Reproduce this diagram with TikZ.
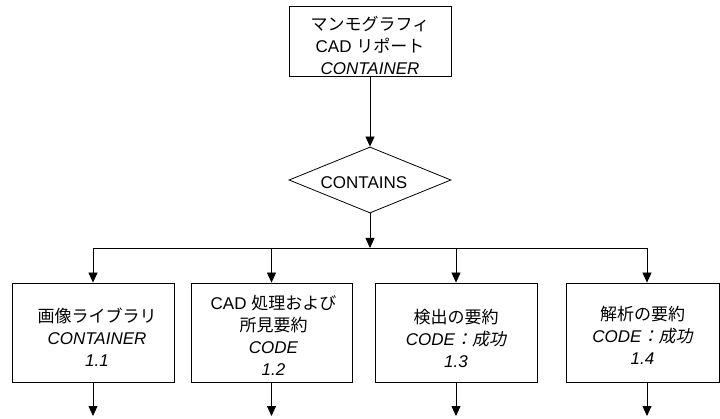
\documentclass[tikz,border=0pt]{standalone}
\usepackage{fontspec}
\setmainfont{Liberation Sans}
\newfontfamily\jp{Noto Sans CJK JP}
\newfontfamily\jpit{Noto Sans CJK JP}[FakeSlant=0.2]
\usetikzlibrary{shapes.geometric,arrows.meta}

\tikzset{
  txt/.style={font=\fontsize{17}{22}\selectfont, align=center, inner sep=0pt},
  flowbox/.style={draw, line width=0.8pt, minimum width=162pt, minimum height=99pt, inner sep=0pt},
  flowline/.style={line width=0.8pt},
  flowarrow/.style={flowline, -{Triangle[length=10pt,width=9pt]}}
}

\begin{document}
\begin{tikzpicture}[x=1pt,y=-1pt]
\useasboundingbox (0,0) rectangle (720,419);

% top container
\node[flowbox, minimum width=162pt, minimum height=70pt] (report) at (370,41) {};
\node[txt] (reporttext) at ([yshift=-4pt]report.center)
  {{\jp マンモグラフィ}\\CAD {\jp リポート}\\\textit{CONTAINER}};

\node[draw, line width=0.8pt, shape=diamond, inner sep=0pt, minimum width=162pt, minimum height=66pt] (contains) at (370,180) {};
\node[txt] (containstext) at ([xshift=-6pt,yshift=-3pt]contains.center) {CONTAINS};

\coordinate (hub) at (370,248);

% children
\node[flowbox] (lib) at (93,332.5) {};
\node[flowbox, minimum width=161pt] (cad) at (271.5,332.5) {};
\node[flowbox] (det) at (456,332.5) {};
\node[flowbox, minimum width=153pt] (ana) at (642.5,332.5) {};

\node[txt] (libtext) at ([xshift=4pt,yshift=-5pt]lib.center)
  {{\jp 画像ライブラリ}\\\textit{CONTAINER}\\\textit{1.1}};
\node[txt] (cadtext) at ([xshift=2pt,yshift=-3pt]cad.center)
  {CAD {\jp 処理および}\\{\jp 所見要約}\\\textit{CODE}\\\textit{1.2}};
\node[txt] (dettext) at ([yshift=-6pt]det.center)
  {{\jp 検出の要約}\\\textit{CODE}{\jpit ：成功}\\\textit{1.3}};
\node[txt] (anatext) at ([yshift=-3pt]ana.center)
  {{\jp 解析の要約}\\\textit{CODE}{\jpit ：成功}\\\textit{1.4}};

\coordinate (out1) at (93,416);
\coordinate (out2) at (271.5,416);
\coordinate (out3) at (456,416);
\coordinate (out4) at (647,416);

\draw[flowarrow] (report.south) -- (contains.north);
\draw[flowarrow] (contains.south) -- (hub);
\draw[flowline] (lib.north |- hub) -- (out4 |- hub);

\draw[flowarrow] (lib.north |- hub) -- (lib.north);
\draw[flowarrow] (cad.north |- hub) -- (cad.north);
\draw[flowarrow] (det.north |- hub) -- (det.north);
\draw[flowarrow] (out4 |- hub) -- (out4 |- ana.north);

\draw[flowarrow] (lib.south) -- (out1);
\draw[flowarrow] (cad.south) -- (out2);
\draw[flowarrow] (det.south) -- (out3);
\draw[flowarrow] (out4 |- ana.south) -- (out4);
\end{tikzpicture}
\end{document}
